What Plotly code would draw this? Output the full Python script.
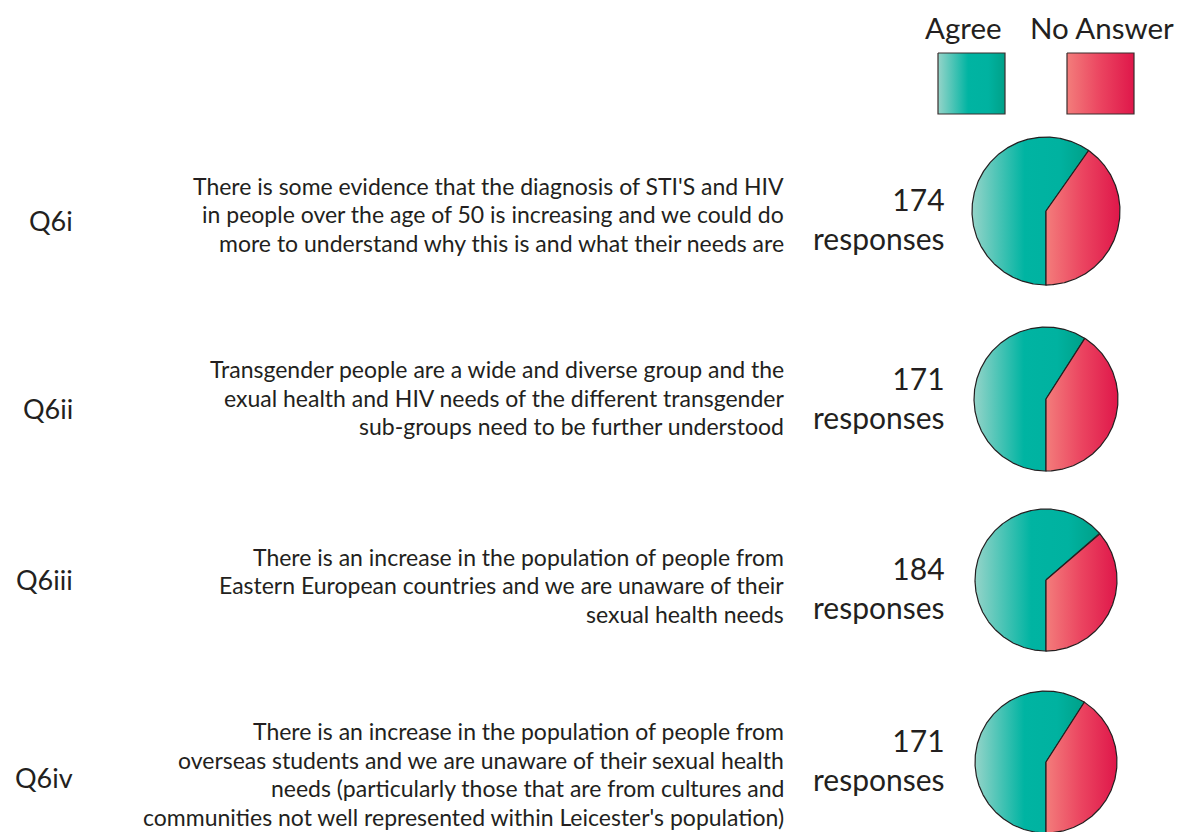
import numpy as np
import plotly.graph_objects as go

# ---- data ----
questions = ["Q6i", "Q6ii", "Q6iii", "Q6iv"]
statements = [
    ["There is some evidence that the diagnosis of STI'S and HIV",
     "in people over the age of 50 is increasing and we could do",
     "more to understand why this is and what their needs are"],
    ["Transgender people are a wide and diverse group and the",
     "exual health and HIV needs of the different transgender",
     "sub-groups need to be further understood"],
    ["There is an increase in the population of people from",
     "Eastern European countries and we are unaware of their",
     "sexual health needs"],
    ["There is an increase in the population of people from",
     "overseas students and we are unaware of their sexual health",
     "needs (particularly those that are from cultures and",
     "communities not well represented within Leicester's population)"],
]
categories = ["Agree", "No Answer"]
agree = [104, 101, 117, 101]
no_answer = [70, 70, 67, 70]
responses = [174, 171, 184, 171]

# ---- layout / style ----
W, H = 1184, 832
OFF = 8  # page body margin
FONT = "Lato"
TXT = "#231f20"
pie_cx = 1046
pie_cy = [211, 399, 580, 762]
pie_r = [74, 72, 71, 71]
line_y0 = [185.5, 369, 556.5, 731]
line_dy = 28.7
label_cy = [220, 408, 579, 777]
resp_cy = [218, 397, 587, 759]
grad = {
    "Agree": [[0, "#95d4c9"], [0.45, "#00b4a2"], [0.75, "#00b2a0"], [1, "#00a088"]],
    "No Answer": [[0, "#f37d7b"], [0.5, "#eb4460"], [1, "#df174a"]],
}

fig = go.Figure()


def wedge(cx, cy, r, a0, a1):
    t = np.radians(np.linspace(a0, a1, max(int(abs(a1 - a0) * 2), 8)))
    xs = np.concatenate([[cx], cx + r * np.sin(t), [cx]])
    ys = np.concatenate([[cy], cy - r * np.cos(t), [cy]])
    return xs, ys


for i in range(len(questions)):
    vals = [agree[i], no_answer[i]]
    total = sum(vals)
    start = 180.0
    for cat, v in zip(categories, vals):
        span = 360.0 * v / total
        xs, ys = wedge(pie_cx, pie_cy[i], pie_r[i], start, start + span)
        fig.add_trace(go.Scatter(
            x=xs, y=ys, mode="lines", fill="toself",
            line=dict(color=TXT, width=1.2),
            fillgradient=dict(type="horizontal", colorscale=grad[cat]),
            name=cat, showlegend=False, hoverinfo="text",
            text=f"{questions[i]} {cat}: {v}",
        ))
        start += span

    fig.add_annotation(x=75, y=label_cy[i], text=questions[i], showarrow=False,
                       xanchor="right", yanchor="middle",
                       font=dict(family=FONT, size=27, color=TXT))
    for j, line in enumerate(statements[i]):
        fig.add_annotation(x=786, y=line_y0[i] + j * line_dy, text=line, showarrow=False,
                           xanchor="right", yanchor="middle", align="right",
                           font=dict(family=FONT, size=23, color=TXT))
    fig.add_annotation(x=947, y=resp_cy[i], text=f"{responses[i]}<br>responses",
                       showarrow=False, xanchor="right", yanchor="middle", align="right",
                       font=dict(family=FONT, size=30, color=TXT))

# legend swatches
leg_x = [938, 1067]
leg_w = 67
leg_y0, leg_y1 = 53, 114
leg_text_x = [963, 1102]
for cat, lx, tx in zip(categories, leg_x, leg_text_x):
    fig.add_trace(go.Scatter(
        x=[lx, lx + leg_w, lx + leg_w, lx, lx], y=[leg_y0, leg_y0, leg_y1, leg_y1, leg_y0],
        mode="lines", fill="toself", line=dict(color="#3a2e2e", width=1.2),
        fillgradient=dict(type="horizontal", colorscale=grad[cat]),
        showlegend=False, hoverinfo="skip",
    ))
    fig.add_annotation(x=tx, y=27, text=cat, showarrow=False, xanchor="center",
                       yanchor="middle", font=dict(family=FONT, size=29.5, color=TXT))

fig.update_layout(
    width=W, height=H, margin=dict(l=0, r=0, t=0, b=0),
    paper_bgcolor="white", plot_bgcolor="white",
    xaxis=dict(range=[OFF, W + OFF], visible=False, fixedrange=True),
    yaxis=dict(range=[H + OFF, OFF], visible=False, fixedrange=True),
    showlegend=False,
)
fig.write_html("out.html")
